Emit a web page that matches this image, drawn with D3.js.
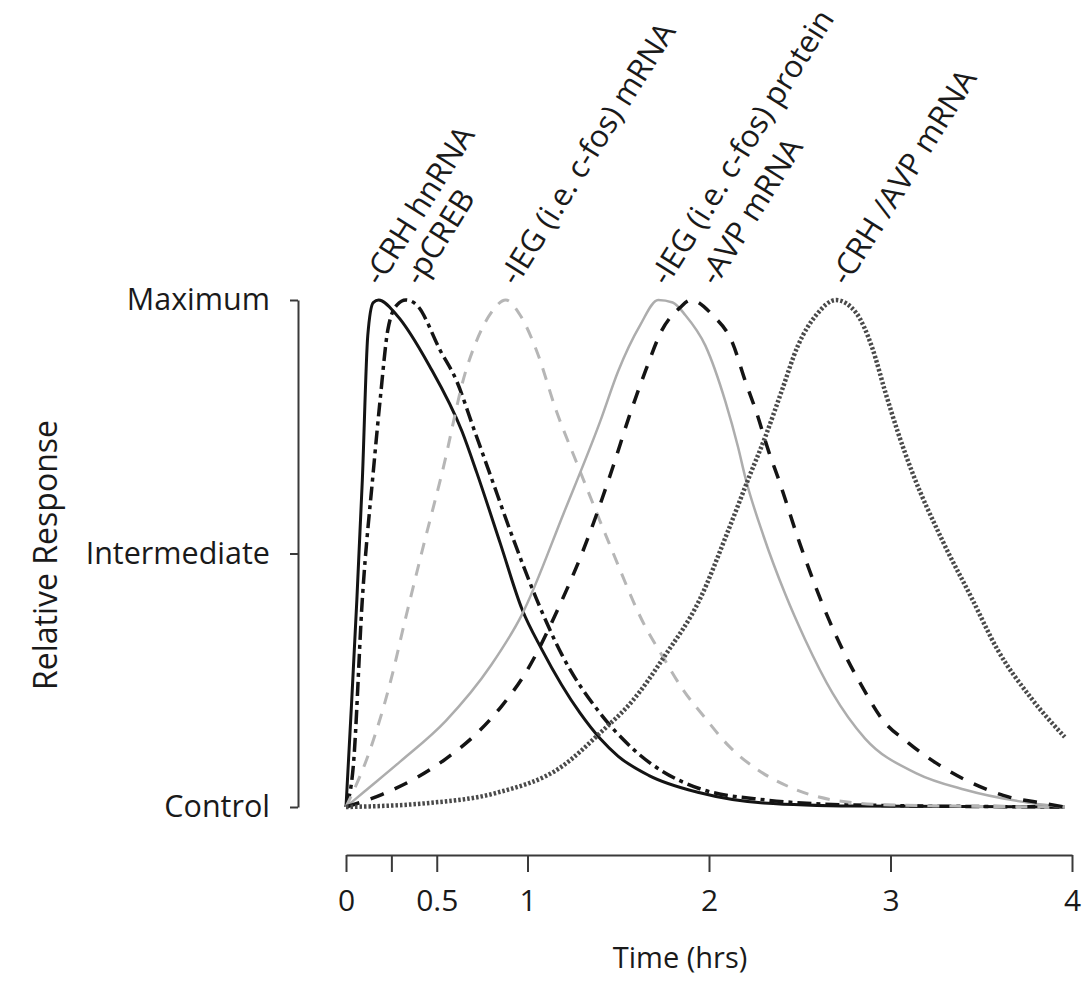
<!DOCTYPE html>
<html>
<head>
<meta charset="utf-8">
<script src="https://cdn.jsdelivr.net/npm/d3@7"></script>
<style>
  body { margin: 0; background: #fff; }
  svg text { font-family: "Open Sans", sans-serif; fill: #1a1a1a; }
</style>
</head>
<body>
<div id="chart"></div>
<script>
// time (hrs), relative response (0 = control, 1 = maximum)
const crhHnRNA = [[0,0],[0.03,0.2],[0.06,0.41],[0.09,0.645],[0.12,0.93],[0.15,0.995],[0.18,1.0],[0.28,0.97],[0.46,0.87],[0.64,0.74],[0.72,0.66],[0.85,0.52],[0.97,0.39],[1.08,0.31],[1.29,0.185],[1.4,0.135],[1.5,0.1],[1.67,0.062],[1.95,0.028],[2.3,0.008],[2.8,0.002],[3.96,0]];
const pCREB = [[0,0],[0.04,0.08],[0.09,0.41],[0.15,0.66],[0.19,0.81],[0.23,0.94],[0.28,0.99],[0.33,1.0],[0.39,0.99],[0.52,0.9],[0.61,0.84],[0.7,0.75],[0.79,0.66],[0.92,0.53],[1.05,0.41],[1.19,0.3],[1.4,0.185],[1.58,0.115],[1.95,0.036],[2.31,0.014],[2.8,0.004],[3.96,0]];
const iegMRNA = [[0,0],[0.13,0.11],[0.24,0.24],[0.33,0.375],[0.43,0.52],[0.53,0.66],[0.66,0.86],[0.72,0.92],[0.8,0.975],[0.88,1.0],[0.96,0.97],[1.05,0.9],[1.16,0.78],[1.27,0.68],[1.45,0.52],[1.65,0.355],[1.74,0.3],[1.85,0.235],[1.98,0.175],[2.11,0.12],[2.27,0.073],[2.44,0.04],[2.68,0.014],[3.0,0.004],[3.96,0]];
const iegProtein = [[0,0],[0.1,0.03],[0.3,0.09],[0.55,0.17],[0.8,0.28],[0.97,0.38],[1.2,0.58],[1.4,0.76],[1.5,0.86],[1.62,0.95],[1.72,1.0],[1.8,0.995],[1.87,0.97],[1.98,0.91],[2.09,0.8],[2.16,0.71],[2.2,0.65],[2.3,0.535],[2.42,0.42],[2.53,0.33],[2.68,0.225],[2.86,0.135],[3.14,0.067],[3.41,0.034],[3.77,0.008],[3.96,0]];
const avpMRNA = [[0,0],[0.2,0.025],[0.4,0.06],[0.55,0.095],[0.72,0.145],[0.86,0.2],[0.99,0.265],[1.18,0.4],[1.3,0.5],[1.47,0.67],[1.56,0.77],[1.65,0.86],[1.74,0.94],[1.84,0.985],[1.9,1.0],[2.02,0.97],[2.13,0.915],[2.2,0.84],[2.26,0.78],[2.33,0.7],[2.38,0.65],[2.5,0.52],[2.66,0.37],[2.75,0.3],[2.84,0.24],[2.95,0.175],[3.1,0.126],[3.25,0.087],[3.45,0.047],[3.65,0.02],[3.83,0.008],[3.96,0]];
const crhAvpMRNA = [[0,0],[0.46,0.008],[0.83,0.028],[1.19,0.08],[1.4,0.146],[1.58,0.21],[1.76,0.3],[1.95,0.41],[2.1,0.54],[2.22,0.65],[2.31,0.73],[2.4,0.82],[2.49,0.91],[2.59,0.97],[2.7,1.0],[2.81,0.975],[2.9,0.905],[2.97,0.82],[3.04,0.74],[3.12,0.66],[3.28,0.53],[3.45,0.41],[3.59,0.31],[3.77,0.217],[3.96,0.138]];

// peak labels: text and the time where each label starts
const labelNames = ["-CRH hnRNA", "-pCREB", "-IEG (i.e. c-fos) mRNA", "-IEG (i.e. c-fos) protein", "-AVP mRNA", "-CRH /AVP mRNA"];
const labelTimes = [0.19, 0.41, 0.94, 1.77, 2.04, 2.76];

const xTicks = [0, 0.25, 0.5, 1, 2, 3, 4];
const xTickLabels = ["0", "", "0.5", "1", "2", "3", "4"];
const yTicks = [0, 0.5, 1];
const yTickLabels = ["Control", "Intermediate", "Maximum"];

const width = 1090, height = 994;

const svg = d3.select("#chart")
    .append("svg")
    .attr("width", width)
    .attr("height", height);

const x = d3.scaleLinear().domain([0, 4]).range([346, 1072]);
const y = d3.scaleLinear().domain([0, 1]).range([807, 300]);

// curve styles
const series = [
    { data: crhHnRNA,   stroke: "#141414", width: 3,   dash: null },
    { data: pCREB,      stroke: "#141414", width: 3.5, dash: "14,5,4,5" },
    { data: iegMRNA,    stroke: "#b6b6b6", width: 3,   dash: "12,10" },
    { data: iegProtein, stroke: "#adadad", width: 2.5, dash: null },
    { data: avpMRNA,    stroke: "#141414", width: 3.5, dash: "14,12" },
    { data: crhAvpMRNA, stroke: "#4a4a4a", width: 4.5, dash: "2.5,2" }
];

const line = d3.line()
    .x(d => x(d[0]))
    .y(d => y(d[1]))
    .curve(d3.curveMonotoneX);

svg.selectAll("path.curve")
    .data(series)
    .enter()
    .append("path")
    .attr("class", "curve")
    .attr("d", d => line(d.data))
    .attr("fill", "none")
    .attr("stroke", d => d.stroke)
    .attr("stroke-width", d => d.width)
    .attr("stroke-dasharray", d => d.dash);

// x axis
const xAxis = svg.append("g")
    .attr("transform", "translate(0,855)")
    .call(d3.axisBottom(x)
        .tickValues(xTicks)
        .tickFormat((d, i) => xTickLabels[i])
        .tickSize(17)
        .tickSizeOuter(0));

xAxis.selectAll("text")
    .attr("y", 56)
    .attr("dy", 0)
    .style("font-size", "30px");

// y axis
const yAxis = svg.append("g")
    .attr("transform", "translate(298,0)")
    .call(d3.axisLeft(y)
        .tickValues(yTicks)
        .tickFormat((d, i) => yTickLabels[i])
        .tickSize(8)
        .tickPadding(20)
        .tickSizeOuter(0));

yAxis.selectAll("text").style("font-size", "30.5px");

svg.selectAll(".domain, .tick line")
    .attr("stroke", "#3a3a3a")
    .attr("stroke-width", 2);

// axis titles
svg.append("text")
    .attr("x", 680)
    .attr("y", 968)
    .attr("text-anchor", "middle")
    .style("font-size", "29px")
    .text("Time (hrs)");

svg.append("text")
    .attr("transform", "translate(57,555) rotate(-90)")
    .attr("text-anchor", "middle")
    .style("font-size", "32px")
    .text("Relative Response");

// rotated peak labels
svg.selectAll("text.peak")
    .data(labelNames)
    .enter()
    .append("text")
    .attr("class", "peak")
    .attr("transform", (d, i) => `translate(${x(labelTimes[i])},287) rotate(-58)`)
    .style("font-size", "31px")
    .text(d => d);
</script>
</body>
</html>
